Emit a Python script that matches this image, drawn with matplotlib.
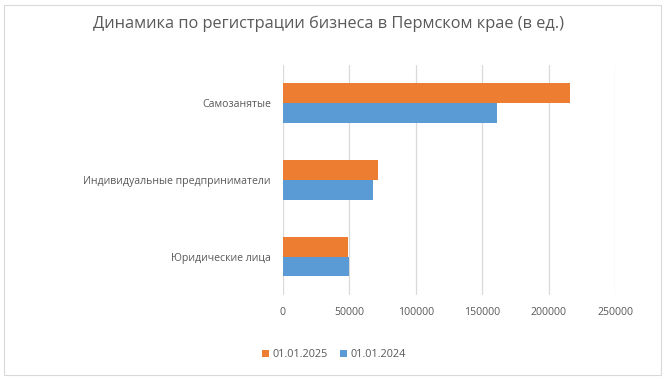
import matplotlib
matplotlib.use("Agg")
import matplotlib.pyplot as plt
import numpy as np
from matplotlib.patches import Rectangle

categories = ["Юридические лица", "Индивидуальные предприниматели", "Самозанятые"]
values_2025 = [48900, 71400, 216000]
values_2024 = [49900, 67700, 161100]
series_labels = ["01.01.2025", "01.01.2024"]
xticks = [0, 50000, 100000, 150000, 200000, 250000]

ORANGE = "#ed7d31"
BLUE = "#5b9bd5"
TEXT = "#595959"

plt.rcParams["font.family"] = ["Open Sans", "DejaVu Sans"]

fig = plt.figure(figsize=(6.65, 3.8), dpi=100)
ax = fig.add_axes([0.425, 0.224, 0.5, 0.606])

y = np.arange(len(categories))
h = 0.26
ax.barh(y + h / 2, values_2025, height=h, color=ORANGE, label=series_labels[0], zorder=3)
ax.barh(y - h / 2, values_2024, height=h, color=BLUE, label=series_labels[1], zorder=3)

ax.set_xlim(0, 250000)
ax.set_ylim(-0.5, len(categories) - 0.5)
ax.set_xticks(xticks)
ax.set_xticklabels([str(v) for v in xticks])
ax.set_yticks(y)
ax.set_yticklabels(categories)
ax.tick_params(axis="both", length=0, labelsize=7.6, colors=TEXT)
ax.tick_params(axis="x", pad=9)
ax.tick_params(axis="y", pad=8.5)
ax.grid(axis="x", color="#d9d9d9", lw=0.9, zorder=0)
for s in ax.spines.values():
    s.set_visible(False)

fig.text(0.494, 0.937, "Динамика по регистрации бизнеса в Пермском крае (в ед.)",
         ha="center", va="center", fontsize=11.8, color=TEXT)

leg = fig.legend(loc="center", bbox_to_anchor=(0.502, 0.066), ncol=2, frameon=False,
                 fontsize=7.8, handlelength=0.6, handleheight=0.6, handletextpad=0.3,
                 columnspacing=1.2, labelcolor=TEXT)

fig.patches.append(Rectangle((0.006, 0.012), 0.988, 0.976, transform=fig.transFigure,
                             fill=False, edgecolor="#d9d9d9", lw=0.8))

fig.savefig("out.png", dpi=100, facecolor="white")
